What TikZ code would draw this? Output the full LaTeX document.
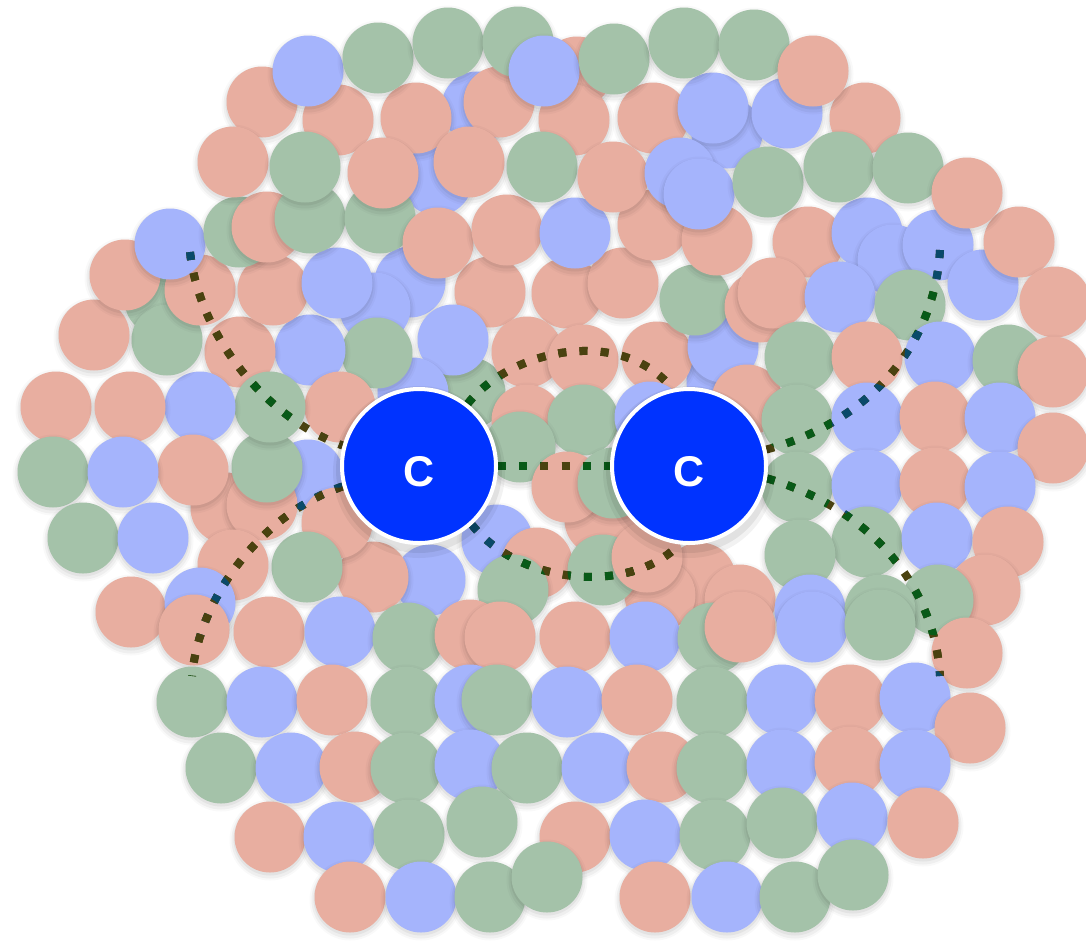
\documentclass[tikz,border=0pt]{standalone}
\usepackage{fontspec}
\setmainfont{Liberation Sans}
\pgfdeclarelayer{front}
\pgfsetlayers{main,front}
\definecolor{fillS}{HTML}{E8AEA0}
\definecolor{fillB}{HTML}{A5B4FC}
\definecolor{fillG}{HTML}{A4C2A9}
\definecolor{dotS}{HTML}{4A4210}
\definecolor{dotB}{HTML}{0A4A6A}
\definecolor{dotG}{HTML}{085A18}
\definecolor{cblue}{HTML}{0033FF}
\tikzset{
  dotline/.style={line width=4pt, dash pattern=on 4pt off 6.6pt},
  cnode/.style={circle, fill=cblue, draw=white, line width=2pt, minimum size=77pt,
    inner sep=0pt, text=white, font=\fontsize{21.5}{24}\selectfont\bfseries},
  softshadow/.style={fill=black, opacity=#1},
}
\newcommand\allcurves[1]{%
  \draw[dotline,#1] (ul) .. controls (200,340) and (270,420) .. (CL.165);
  \draw[dotline,#1] (CL.195) .. controls (270,510) and (200,590) .. (ll);
  \draw[dotline,#1] (CL.52) .. controls (510,350) and (620,325) .. (CR.102);
  \draw[dotline,#1] (CL.east) -- (CR.west);
  \draw[dotline,#1] (CL.-48) .. controls (520,585) and (630,595) .. (CR.-97);
  \draw[dotline,#1] (ur) .. controls (935,340) and (875,420) .. (CR.12);
  \draw[dotline,#1] (CR.-9) .. controls (875,510) and (935,590) .. (lr);
}
\newcommand\lowC{\raisebox{-2.5pt}[15.4pt][0pt]{C}}
\def\circlelist{470/393/G, 700/578/S, 226/508/S, 722/382/B, 660/595/S, 600/520/S, 410/282/B,
 577/72/S, 477/107/B, 437/180/B, 727/133/B, 490/292/S, 567/293/S, 623/283/S,
 453/340/B, 527/352/S, 583/360/S, 657/357/S, 723/347/B, 695/300/G, 760/307/S, 527/420/S,
 583/420/G, 650/417/B, 520/447/G, 567/487/S, 613/483/G, 497/540/B, 537/563/S, 603/570/G,
 647/557/S, 513/590/G, 430/580/B, 373/577/S, 747/400/S, 413/393/B, 375/308/B, 377/353/G,
 310/350/B, 240/352/S, 340/407/S, 308/475/B, 337/523/S, 307/567/G, 262/505/S, 267/467/G,
 270/407/G, 200/407/B, 193/470/S, 233/565/S, 160/300/G, 167/340/G, 94/335/S, 125/275/S,
 200/290/S, 273/290/S, 337/283/B, 170/244/B, 239/232/G, 267/227/S, 310/218/G, 380/218/G,
 438/243/S, 507/230/S, 575/233/B, 653/225/S, 717/240/S, 808/242/S, 867/233/B, 893/260/B,
 938/245/B, 773/293/S, 840/297/B, 910/305/G, 983/285/B, 1019/242/S, 1055/302/S, 800/357/G,
 867/357/S, 940/357/B, 1008/360/G, 1053/372/S, 797/420/G, 867/418/B, 935/417/S, 1000/418/B,
 1053/448/S, 797/487/G, 867/485/B, 935/483/S, 1000/487/B, 867/542/G, 937/538/B, 1008/542/S,
 985/590/S, 938/600/G, 800/555/G, 740/600/S, 810/610/B, 880/610/G, 967/653/S,
 262/102/S, 338/120/S, 308/71/B, 416/118/S, 499/102/S, 574/120/S, 653/118/S, 713/108/B,
 787/113/B, 865/118/S, 233/162/S, 305/167/G, 383/173/S, 469/162/S, 542/167/G, 613/177/S,
 680/173/B, 699/194/B, 768/182/G, 839/167/G, 908/168/G, 967/193/S, 378/58/G, 448/43/G,
 518/42/G, 544/71/B, 614/59/G, 684/43/G, 754/45/G, 813/71/S,
 56/407/S, 130/407/S, 53/472/G, 123/472/B, 83/538/G, 153/538/B, 131/612/S, 200/603/B,
 194/630/S, 269/632/S, 340/632/B, 408/638/G, 470/635/S, 500/637/S, 575/637/S, 645/637/B,
 713/638/G, 740/627/S, 812/627/B, 880/625/G,
 192/702/G, 262/702/B, 332/700/S, 406/702/G, 470/700/B, 497/700/G, 567/702/B, 637/700/S,
 712/702/G, 782/700/B, 850/700/S, 915/698/B, 970/728/S, 221/768/G, 291/768/B, 355/767/S,
 406/768/G, 470/765/B, 527/768/G, 597/768/B, 662/767/S, 712/768/G, 782/765/B, 850/762/S,
 915/765/B, 270/837/S, 339/837/B, 409/835/G, 482/822/G, 575/837/S, 645/835/B, 715/835/G,
 782/823/G, 852/818/B, 923/823/S, 350/897/S, 421/897/B, 490/897/G, 547/877/G, 655/897/S,
 727/897/B, 795/897/G, 853/875/G}
\begin{document}
\begin{tikzpicture}[x=0.5pt,y=-0.5pt]
  \useasboundingbox (0,0) rectangle (1086,943);
  % background circles with soft shadows
  \foreach \cx/\cy/\cc in \circlelist {
    \fill[softshadow=0.025] (\cx,\cy+3) circle (40.5);
    \fill[softshadow=0.04] (\cx,\cy+3) circle (38.5);
    \fill[softshadow=0.05] (\cx,\cy+2) circle (36.5);
    \fill[fill\cc] (\cx,\cy) circle (35.5);
  }
  % carbon nodes (front layer)
  \begin{pgfonlayer}{front}
    \fill[softshadow=0.05] (419,472) circle (86);
    \fill[softshadow=0.07] (419,470) circle (83);
    \fill[softshadow=0.05] (689,472) circle (86);
    \fill[softshadow=0.07] (689,470) circle (83);
    \node[cnode] (CL) at (419,466) {\lowC};
    \node[cnode] (CR) at (689,466) {\lowC};
  \end{pgfonlayer}
  \coordinate (ul) at (190,252);
  \coordinate (ll) at (192,676);
  \coordinate (ur) at (940,250);
  \coordinate (lr) at (940,676);
  % dotted bonds, tinted by the circle beneath
  \allcurves{dotS}
  \foreach \cx/\cy/\cc in \circlelist {
    \begin{scope}
      \clip (\cx,\cy) circle (35.5);
      \allcurves{dot\cc}
    \end{scope}
  }
\end{tikzpicture}
\end{document}
